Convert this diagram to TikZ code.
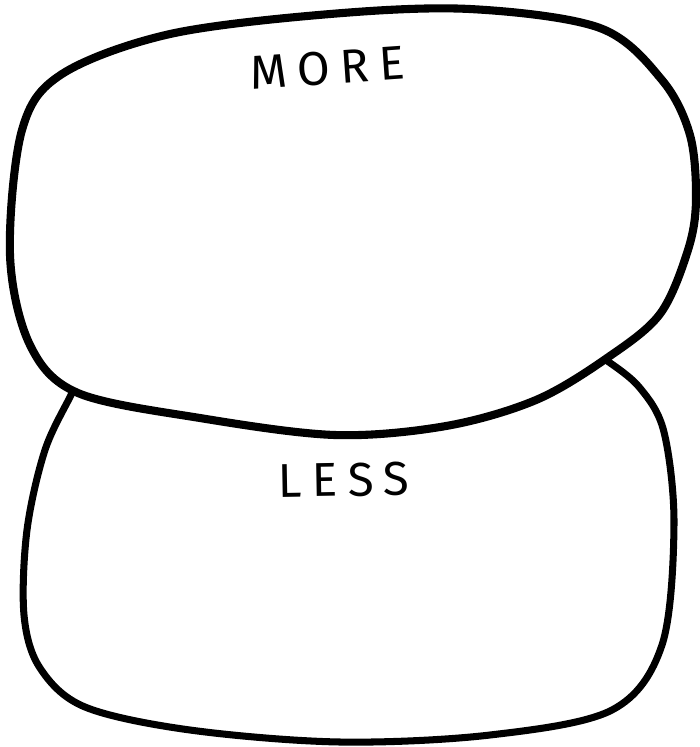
\documentclass[tikz,border=0pt]{standalone}
\usepackage{fontspec}
\setmainfont{Fira Sans}
\begin{document}
\begin{tikzpicture}[x=0.01cm,y=-0.01cm,
    blob/.style={line width=2.3pt,line join=round,fill=white},
    tag/.style={font=\fontsize{13.5}{14}\selectfont\addfontfeature{LetterSpace=22},inner sep=0pt}]
  \useasboundingbox (0,0) rectangle (700,747);
  % lower pebble first, the upper one hides its top
  \draw[blob,line width=2pt] plot[smooth cycle,tension=0.55] coordinates {
    (72,393) (45,450) (27,530) (24,615) (40,668) (85,707) (190,730) (340,742)
    (490,735) (612,710) (662,645) (674,525) (664,432) (640,388) (606,360)
    (570,338) (450,330) (250,340) (88,360)};
  \draw[blob] plot[smooth cycle,tension=0.55] coordinates {
    (10,255) (22,130) (62,74) (170,34) (330,14) (470,9) (600,28) (662,80)
    (690,135) (696,200) (688,250) (660,314) (607,358) (536,400) (446,426)
    (335,435) (200,418) (78,393) (30,345)};
  \node[tag,rotate=4] (more) at (328,68) {MORE};
  \node[tag,rotate=1] (less) at (344,480) {LESS};
\end{tikzpicture}
\end{document}
